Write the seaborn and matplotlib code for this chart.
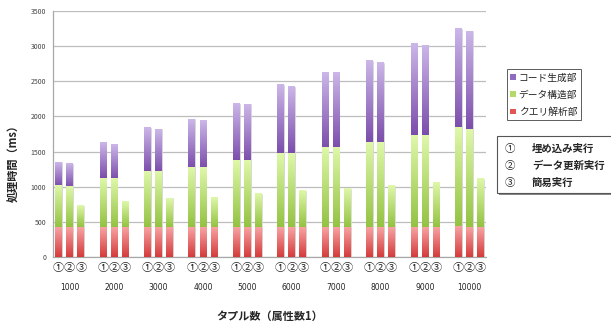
import numpy as np
import pandas as pd
import matplotlib
matplotlib.use("Agg")
import matplotlib.pyplot as plt
import matplotlib.transforms as mtransforms
import seaborn as sns
from matplotlib.colors import LinearSegmentedColormap
from matplotlib.patches import Patch, Rectangle

# data (ms)
tuples = ["1000", "2000", "3000", "4000", "5000", "6000", "7000", "8000", "9000", "10000"]
modes = ["①", "②", "③"]
mode_names = ["埋め込み実行", "データ更新実行", "簡易実行"]
series = ["コード生成部", "データ構造部", "クエリ解析部"]

# ① embedded execution
query_embed = [425, 425, 425, 425, 425, 425, 425, 425, 425, 435]
struct_embed = [585, 695, 785, 845, 940, 1050, 1130, 1205, 1305, 1395]
code_embed = [340, 510, 630, 690, 815, 975, 1075, 1165, 1300, 1415]
# ② data update execution
query_update = [425, 425, 425, 425, 425, 425, 425, 425, 425, 425]
struct_update = [575, 690, 790, 845, 945, 1050, 1130, 1205, 1305, 1385]
code_update = [330, 495, 610, 680, 800, 950, 1075, 1135, 1275, 1405]
# ③ simple execution
query_simple = [425, 425, 425, 425, 425, 425, 425, 425, 425, 425]
struct_simple = [305, 365, 410, 425, 470, 515, 545, 590, 630, 685]

colors_top = {"code": "#ccb7e9", "struct": "#dff8aa", "query": "#f8a3a3"}
colors_bot = {"code": "#7b4dab", "struct": "#93c242", "query": "#d43b3b"}
legend_col = {"code": "#8f6bc0", "struct": "#b3d96a", "query": "#e25555"}

rows = []
for g, t in enumerate(tuples):
    parts = [(query_embed[g], struct_embed[g], code_embed[g]),
             (query_update[g], struct_update[g], code_update[g]),
             (query_simple[g], struct_simple[g], np.nan)]
    for k, (q, s, c) in enumerate(parts):
        rows.append({"pos": g * 4 + k, "group": t, "mode": modes[k],
                     "query": q, "struct": s, "code": c})
df = pd.DataFrame(rows)
df["lvl_query"] = df["query"]
df["lvl_struct"] = df["query"] + df["struct"]
df["lvl_code"] = df["lvl_struct"] + df["code"]

sns.set_style("white")
plt.rcParams["font.family"] = ["Noto Sans CJK JP", "DejaVu Sans"]

fig = plt.figure(figsize=(6.11, 3.24), dpi=100)
ax = fig.add_axes([53 / 611, 1 - 257 / 324, 433 / 611, 246 / 324])

layers = [("code", "lvl_code", "lvl_struct"),
          ("struct", "lvl_struct", "lvl_query"),
          ("query", "lvl_query", None)]
bars = {}
for name, top, bottom in layers:
    sub = df[df[top].notna()]
    n0 = len(ax.patches)
    sns.barplot(data=sub, x="pos", y=top, native_scale=True, width=0.6,
                color=colors_bot[name], errorbar=None, ax=ax,
                edgecolor="#e6e6e6", linewidth=0.5, zorder=2)
    bars[name] = (ax.patches[n0:], sub, bottom)

# vertical gradient on every segment
grad = np.linspace(0, 1, 256).reshape(-1, 1)
for name, (patches, sub, bottom) in bars.items():
    cmap = LinearSegmentedColormap.from_list(name, [colors_bot[name], colors_top[name]])
    lookup = sub.set_index("pos")
    for p in patches:
        x0, w, h = p.get_x(), p.get_width(), p.get_height()
        pos = int(round(x0 + w / 2))
        y0 = 0 if bottom is None else lookup.loc[pos, bottom]
        ax.imshow(grad, extent=[x0, x0 + w, y0, h], origin="lower",
                  cmap=cmap, aspect="auto", zorder=3, interpolation="antialiased")

ax.set_xlim(-0.5, 38.5)
ax.set_ylim(0, 3500)
ax.set_yticks(np.arange(0, 3501, 500))
ax.tick_params(axis="y", labelsize=5, colors="#444444", length=2, pad=3)
ax.set_xticks(df["pos"])
ax.set_xticklabels(df["mode"], fontsize=8, color="#222222")
ax.tick_params(axis="x", length=0, pad=4)
ax.yaxis.grid(True, color="#bdbdbd", linewidth=0.9, zorder=0)
ax.set_axisbelow(True)
for s in ["top", "right"]:
    ax.spines[s].set_visible(False)
for s in ["left", "bottom"]:
    ax.spines[s].set_color("#a8a8a8")
    ax.spines[s].set_linewidth(0.9)
ax.set_xlabel("")
ax.set_ylabel("")

trans = mtransforms.blended_transform_factory(ax.transData, ax.transAxes)
for g, t in enumerate(tuples):
    ax.text(g * 4 + 1, -0.122, t, transform=trans, ha="center", va="center",
            fontsize=5.5, color="#222222", family="DejaVu Sans")

fig.text(269.5 / 611, 1 - 316 / 324, "タプル数（属性数1）", ha="center", va="center",
         fontsize=8, fontweight="bold")
fig.text(14 / 611, 1 - 161 / 324, "処理時間（ms）", ha="center", va="center",
         rotation=90, fontsize=8, fontweight="bold")

# series legend
handles = [Patch(facecolor=legend_col[n], edgecolor="none") for n in ["code", "struct", "query"]]
leg = fig.legend(handles, series, loc="upper left",
                 bbox_to_anchor=(507 / 611, 1 - 69 / 324), fontsize=7,
                 frameon=True, fancybox=False, edgecolor="#333333",
                 handlelength=0.55, handleheight=0.55, handletextpad=0.3,
                 borderpad=0.35, labelspacing=0.75, borderaxespad=0)
leg.get_frame().set_linewidth(0.7)

# execution-mode key
x0, y0, w, h = 497 / 611, 1 - 193 / 324, 0.3, 57 / 324
fig.patches.append(Rectangle((x0 + 0.003, y0 - 0.006), w, h, transform=fig.transFigure,
                             facecolor="#888888", edgecolor="none", zorder=1))
fig.patches.append(Rectangle((x0, y0), w, h, transform=fig.transFigure,
                             facecolor="white", edgecolor="#555555", linewidth=0.8, zorder=2))
for i, (m, nm) in enumerate(zip(modes, mode_names)):
    yy = 1 - (149 + i * 17) / 324
    fig.text(510 / 611, yy, m, ha="center", va="center", fontsize=7.5, zorder=3)
    fig.text(532 / 611, yy, nm, ha="left", va="center", fontsize=7.5, zorder=3,
             fontweight="bold")

fig.savefig("out.png", dpi=100)
